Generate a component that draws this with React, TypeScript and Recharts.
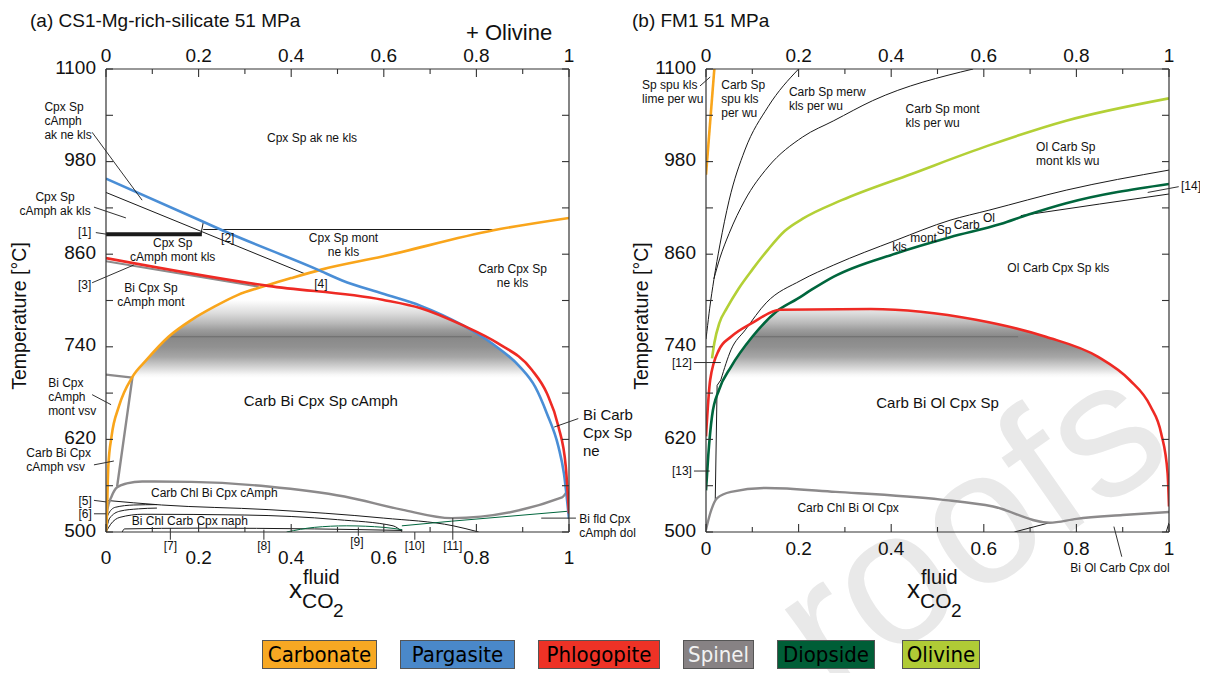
import React from "react";
import {
  Area,
  ComposedChart,
  Line,
  ReferenceDot,
  ReferenceLine,
  XAxis,
  YAxis,
} from "recharts";

const FONT = "'Liberation Sans', Arial, Helvetica, sans-serif";
const H = 673;
const AXIS = { stroke: "#333", strokeWidth: 1.2 };

const ORANGE = "#F9A51B";
const BLUE = "#4A8ED6";
const RED = "#EE2A24";
const GRAY = "#8C8A8B";
const DKGREEN = "#00663D";
const LIME = "#B3D036";
const INK = "#1a1a1a";

// axes
const xTicks = [0, 0.1, 0.2, 0.3, 0.4, 0.5, 0.6, 0.7, 0.8, 0.9, 1];
const yTicks = [500, 560, 620, 680, 740, 800, 860, 920, 980, 1040, 1100];
const yLabelled = [500, 620, 740, 860, 980, 1100];

// (a) CS1-Mg-rich-silicate, [x CO2, T °C]
const carbonateA = [[0, 500], [0.001, 507], [0.005, 585], [0.012, 624], [0.028, 663], [0.057, 701], [0.086, 722], [0.135, 753], [0.185, 775], [0.234, 792], [0.284, 807], [0.35, 820], [0.4, 829], [0.465, 840], [0.597, 857], [0.837, 891], [1, 907]];
const pargasiteA = [[0, 958], [0.21, 902], [0.251, 891], [0.457, 840], [0.51, 826], [0.597, 809], [0.68, 793], [0.77, 768], [0.837, 743], [0.894, 714], [0.927, 688], [0.952, 654], [0.977, 611], [0.989, 576], [1, 517]];
const phlogopiteA = [[0, 855], [0.35, 819], [0.597, 801], [0.68, 790], [0.77, 768], [0.845, 745], [0.92, 710], [0.952, 680], [0.977, 637], [0.993, 585], [1, 524]];
const spinelA1 = [[0, 704], [0.057, 700], [0.024, 559]];
const spinelA2 = [[0, 500], [0.003, 529], [0.012, 546], [0.024, 558], [0.045, 563], [0.078, 565.5], [0.185, 565], [0.35, 559], [0.515, 546], [0.639, 529], [0.746, 518], [0.985, 545], [0.995, 552]];
const spinelA3 = [[0, 851], [0.33, 818]];
const diopsideA1 = [[0.39, 500], [0.45, 506], [0.52, 508], [0.6, 506], [0.64, 503]];
const diopsideA2 = [[0.639, 508], [0.746, 514], [1, 527]];
const akLineA = [[0, 940], [0.432, 834]];
const tieA = [[0.21, 901], [0.205, 886]];
const flatA = [[0.21, 892], [0.835, 892]];
const thickA = [[0, 886], [0.207, 886]];
const lowA1 = [[0, 541], [0.12, 535], [0.35, 529], [0.6, 518], [0.75, 508], [0.805, 500]];
const lowA2 = [[0, 500], [0.004, 522], [0.02, 532], [0.06, 535], [0.11, 535.5]];
const lowA3 = [[0, 500], [0.008, 518], [0.03, 527], [0.07, 530], [0.11, 531]];
const lowA4 = [[0, 500], [0.01, 510], [0.03, 519], [0.08, 523], [0.3, 522], [0.5, 516], [0.62, 508], [0.64, 500]];
const lowA5 = [[0.035, 500], [0.04, 504], [0.2, 505], [0.45, 504], [0.64, 502]];
const shadeA = [[0.057, 700], [0.086, 722], [0.135, 753], [0.185, 775], [0.234, 792], [0.284, 807], [0.35, 819], [0.45, 811], [0.597, 801], [0.68, 790], [0.77, 768], [0.837, 743], [0.894, 714], [0.915, 700]];
const bandA = [[0.135, 753], [0.79, 753]];

// (b) FM1
const carbonateB = [[0, 963], [0.018, 1100]];
const blackB1 = [[0, 750], [0.002, 760], [0.008, 790], [0.017, 827], [0.03, 872], [0.05, 930], [0.084, 995], [0.134, 1051], [0.2, 1100]];
const blackB2 = [[0.017, 828], [0.03, 855], [0.05, 887], [0.084, 930], [0.134, 973], [0.209, 1012], [0.276, 1033], [0.36, 1059], [0.577, 1100]];
const olivineB = [[0.013, 725], [0.018, 745], [0.029, 771], [0.045, 790], [0.07, 815], [0.1, 840], [0.134, 866], [0.17, 890], [0.209, 906], [0.293, 930], [0.444, 964], [0.611, 1001], [0.778, 1033], [1, 1062]];
const diopsideB = [[0, 554], [0.005, 600], [0.013, 650], [0.028, 684], [0.054, 714], [0.1, 753], [0.153, 786], [0.197, 802], [0.228, 814], [0.276, 831], [0.41, 861], [0.527, 882], [0.636, 899], [0.695, 911], [0.778, 926], [1, 951]];
const blackB3 = [[0.032, 697], [0.054, 736], [0.085, 762], [0.13, 797], [0.205, 826], [0.276, 846], [0.41, 878], [0.527, 904], [0.611, 917], [0.778, 943], [1, 969]];
const blackB3drop = [[0.02, 542], [0.024, 690], [0.032, 697]];
const blackB4 = [[0.68, 910], [0.85, 925], [1, 938]];
const phlogopiteB = [[0, 624], [0.009, 697], [0.028, 736], [0.054, 753], [0.1, 771], [0.16, 788], [0.356, 789], [0.583, 775], [0.734, 753], [0.847, 727], [0.915, 697], [0.96, 663], [0.983, 628], [0.997, 576], [1, 533]];
const spinelB = [[0, 503], [0.009, 524], [0.024, 544], [0.054, 552], [0.13, 557], [0.28, 552], [0.508, 542], [0.62, 533], [0.742, 512], [0.8, 517], [0.9, 522], [1, 526]];
const blackB5 = [[0.666, 500], [0.742, 512]];
const blackB6 = [[0.994, 500], [1, 512]];
const shadeB = [[0.04, 700], [0.054, 714], [0.1, 753], [0.155, 786], [0.16, 788], [0.356, 789], [0.583, 775], [0.734, 753], [0.847, 727], [0.912, 700]];
const bandB = [[0.1, 753], [0.674, 753]];

type Lbl = { x: number; t: number; text: string[]; size?: number; anchor?: "start" | "middle" | "end" };

const labelsA: Lbl[] = [
  { x: -0.133, t: 1032.6, text: ["Cpx Sp", "cAmph", "ak ne kls"], anchor: "start" },
  { x: 0.445, t: 1010.6, text: ["Cpx Sp ak ne kls"] },
  { x: -0.11, t: 925, text: ["Cpx Sp", "cAmph ak kls"] },
  { x: -0.046, t: 889, text: ["[1]"] },
  { x: 0.144, t: 865.5, text: ["Cpx Sp", "cAmph mont kls"] },
  { x: 0.263, t: 881, text: ["[2]"] },
  { x: 0.513, t: 872, text: ["Cpx Sp mont", "ne kls"] },
  { x: -0.046, t: 820, text: ["[3]"] },
  { x: 0.464, t: 821.5, text: ["[4]"] },
  { x: 0.878, t: 832.5, text: ["Carb Cpx Sp", "ne kls"] },
  { x: 0.097, t: 808, text: ["Bi Cpx Sp", "cAmph mont"] },
  { x: -0.125, t: 675, text: ["Bi Cpx", "cAmph", "mont vsv"], anchor: "start" },
  { x: 0.464, t: 670, text: ["Carb Bi Cpx Sp cAmph"], size: 15 },
  { x: -0.172, t: 593.5, text: ["Carb Bi Cpx", "cAmph vsv"], anchor: "start" },
  { x: 1.03, t: 628.5, text: ["Bi Carb", "Cpx Sp", "ne"], size: 15, anchor: "start" },
  { x: 0.234, t: 551, text: ["Carb Chl Bi Cpx cAmph"] },
  { x: -0.045, t: 541, text: ["[5]"] },
  { x: -0.045, t: 523.6, text: ["[6]"] },
  { x: 0.181, t: 514.5, text: ["Bi Chl Carb Cpx naph"] },
  { x: 0.139, t: 482, text: ["[7]"] },
  { x: 0.341, t: 482.5, text: ["[8]"] },
  { x: 0.542, t: 487.7, text: ["[9]"] },
  { x: 0.667, t: 482.5, text: ["[10]"] },
  { x: 0.749, t: 482.5, text: ["[11]"] },
  { x: 1.022, t: 508, text: ["Bi fld Cpx", "cAmph dol"], anchor: "start" },
];

const leadersA = [
  [[-0.03, 1018], [0.078, 930]],
  [[-0.026, 921], [0.043, 907]],
  [[-0.022, 888], [0, 886]],
  [[-0.03, 823], [0.06, 846]],
  [[-0.03, 678], [0.011, 665]],
  [[-0.026, 587], [0.017, 592]],
  [[0.968, 636], [1.02, 647]],
  [[-0.026, 541], [0, 539]],
  [[-0.026, 523.6], [0, 523.6]],
  [[0.94, 518], [1.015, 518]],
  [[0.139, 490], [0.139, 505]],
  [[0.341, 490], [0.341, 503]],
  [[0.545, 495], [0.545, 506]],
  [[0.667, 490], [0.667, 500]],
  [[0.749, 490], [0.749, 518]],
];

const labelsB: Lbl[] = [
  { x: -0.138, t: 1070, text: ["Sp spu kls", "lime per wu"], anchor: "start" },
  { x: 0.033, t: 1061, text: ["Carb Sp", "spu kls", "per wu"], anchor: "start" },
  { x: 0.179, t: 1062, text: ["Carb Sp merw", "kls per wu"], anchor: "start" },
  { x: 0.431, t: 1040, text: ["Carb Sp mont", "kls per wu"], anchor: "start" },
  { x: 0.713, t: 990, text: ["Ol Carb Sp", "mont kls wu"], anchor: "start" },
  { x: 1.026, t: 948.5, text: ["[14]"], anchor: "start" },
  { x: 0.418, t: 869.4, text: ["kls"] },
  { x: 0.47, t: 881, text: ["mont"] },
  { x: 0.514, t: 891.5, text: ["Sp"] },
  { x: 0.563, t: 898, text: ["Carb"] },
  { x: 0.611, t: 907, text: ["Ol"] },
  { x: 0.761, t: 842, text: ["Ol Carb Cpx Sp kls"] },
  { x: 0.5, t: 668, text: ["Carb Bi Ol Cpx Sp"], size: 15 },
  { x: -0.052, t: 719.6, text: ["[12]"] },
  { x: -0.052, t: 579, text: ["[13]"] },
  { x: 0.307, t: 531, text: ["Carb Chl Bi Ol Cpx"] },
  { x: 0.894, t: 453, text: ["Bi Ol Carb Cpx dol"] },
];

const leadersB = [
  [[-0.013, 1078], [0.009, 1089.6]],
  [[0.954, 940], [1.021, 947.5]],
  [[-0.026, 719.6], [0.032, 719.6]],
  [[-0.026, 579], [0.008, 579]],
  [[0.881, 507], [0.898, 468]],
];

const legendItems = [
  { name: "Carbonate", color: "#F7A823", left: 262, width: 115, ink: "#000" },
  { name: "Pargasite", color: "#4A88C9", left: 400, width: 115, ink: "#000" },
  { name: "Phlogopite", color: "#EE3226", left: 538, width: 122, ink: "#000" },
  { name: "Spinel", color: "#878284", left: 683, width: 71, ink: "#f2f2f2" },
  { name: "Diopside", color: "#005E37", left: 777, width: 98, ink: "#000" },
  { name: "Olivine", color: "#B0CB36", left: 902, width: 78, ink: "#000" },
];

type Series = { d: number[][]; c: string; w: number; smooth?: boolean };

const seriesA: Series[] = [
  { d: akLineA, c: INK, w: 1 },
  { d: tieA, c: INK, w: 1 },
  { d: flatA, c: INK, w: 1 },
  { d: thickA, c: INK, w: 4 },
  { d: lowA1, c: INK, w: 1, smooth: true },
  { d: lowA2, c: INK, w: 1, smooth: true },
  { d: lowA3, c: INK, w: 1, smooth: true },
  { d: lowA4, c: INK, w: 1, smooth: true },
  { d: lowA5, c: INK, w: 1, smooth: true },
  { d: diopsideA1, c: DKGREEN, w: 1, smooth: true },
  { d: diopsideA2, c: DKGREEN, w: 1 },
  { d: spinelA1, c: GRAY, w: 2.4 },
  { d: spinelA2, c: GRAY, w: 2.4, smooth: true },
  { d: spinelA3, c: GRAY, w: 2 },
  { d: carbonateA, c: ORANGE, w: 2.6, smooth: true },
  { d: pargasiteA, c: BLUE, w: 2.6, smooth: true },
  { d: phlogopiteA, c: RED, w: 2.6, smooth: true },
];

const seriesB: Series[] = [
  { d: blackB1, c: INK, w: 1, smooth: true },
  { d: blackB2, c: INK, w: 1, smooth: true },
  { d: blackB3, c: INK, w: 1, smooth: true },
  { d: blackB3drop, c: INK, w: 1 },
  { d: blackB4, c: INK, w: 1, smooth: true },
  { d: blackB5, c: INK, w: 1 },
  { d: blackB6, c: INK, w: 1 },
  { d: spinelB, c: GRAY, w: 2.4, smooth: true },
  { d: carbonateB, c: ORANGE, w: 2.6 },
  { d: olivineB, c: LIME, w: 2.6, smooth: true },
  { d: diopsideB, c: DKGREEN, w: 2.6, smooth: true },
  { d: phlogopiteB, c: RED, w: 2.6, smooth: true },
];

const pts = (a: number[][]) => a.map(([x, t]) => ({ x, t }));
const fmtX = (v: number) => String(Math.round(v * 10) / 10);
const isMajorX = (v: number) => Math.round(v * 10) % 2 === 0;

function XTick(p: any) {
  const { x, y, payload, side, dy } = p;
  const v = payload.value;
  const major = isMajorX(v);
  const len = major ? 8 : 5;
  const y2 = side === "top" ? y + len : y - len;
  return (
    <g>
      <line x1={x} x2={x} y1={y} y2={y2} stroke="#333" strokeWidth={1.1} />
      {major && (
        <text x={x} y={y + dy} textAnchor="middle" fontSize={19} fontFamily={FONT} fill="#111">
          {fmtX(v)}
        </text>
      )}
    </g>
  );
}

function YTick(p: any) {
  const { x, y, payload, side } = p;
  const v = payload.value;
  const x2 = side === "left" ? x + 7 : x - 7;
  return (
    <g>
      <line x1={x} x2={x2} y1={y} y2={y} stroke="#333" strokeWidth={1.1} />
      {side === "left" && yLabelled.includes(v) && (
        <text x={x - 10} y={y + 4.5} textAnchor="end" fontSize={19} fontFamily={FONT} fill="#111">
          {v}
        </text>
      )}
    </g>
  );
}

function MText({ x, y, lbl }: { x: number; y: number; lbl: Lbl }) {
  const size = lbl.size ?? 12;
  const lh = size > 12 ? 18 : 14;
  const top = y - ((lbl.text.length - 1) * lh) / 2;
  return (
    <text fontSize={size} fontFamily={FONT} textAnchor={lbl.anchor ?? "middle"} fill="#111">
      {lbl.text.map((s, i) => (
        <tspan key={i} x={x} y={top + i * lh} dy="0.35em">
          {s}
        </tspan>
      ))}
    </text>
  );
}

type PanelProps = {
  width: number;
  series: Series[];
  shade: number[][];
  band: number[][];
  labels: Lbl[];
  leaders: number[][][];
  bottomDy: number;
  gid: string;
};

function Panel({ width, series, shade, band, labels, leaders, bottomDy, gid }: PanelProps) {
  const rows = shade.map(([x, t]) => ({ x, r: [700, t] }));
  // plot box: 106..569 horizontally, 69..532 vertically
  const margin = { top: 39, right: width - 579, bottom: 111, left: 56 };
  return (
    <ComposedChart width={width} height={H} margin={margin}>
      <defs>
        <linearGradient id={gid} gradientUnits="userSpaceOnUse" x1="0" y1="300" x2="0" y2="378">
          <stop offset="0" stopColor="#ffffff" />
          <stop offset="0.17" stopColor="#dcdcdc" />
          <stop offset="0.3" stopColor="#b8b8b8" />
          <stop offset="0.385" stopColor="#9c9c9c" />
          <stop offset="0.47" stopColor="#888888" />
          <stop offset="0.6" stopColor="#919191" />
          <stop offset="0.73" stopColor="#a6a6a6" />
          <stop offset="0.855" stopColor="#d2d2d2" />
          <stop offset="0.96" stopColor="#f8f8f8" />
          <stop offset="1" stopColor="#ffffff" />
        </linearGradient>
      </defs>
      <XAxis
        dataKey="x"
        type="number"
        domain={[0, 1]}
        ticks={xTicks}
        interval={0}
        allowDataOverflow
        height={30}
        tickLine={false}
        tickSize={0}
        tickMargin={0}
        axisLine={AXIS}
        tick={(p: any) => <XTick {...p} side="bottom" dy={bottomDy} />}
      />
      <XAxis
        xAxisId="top"
        orientation="top"
        dataKey="x"
        type="number"
        domain={[0, 1]}
        ticks={xTicks}
        interval={0}
        allowDataOverflow
        height={30}
        tickLine={false}
        tickSize={0}
        tickMargin={0}
        axisLine={AXIS}
        tick={(p: any) => <XTick {...p} side="top" dy={-7} />}
      />
      <YAxis
        type="number"
        domain={[500, 1100]}
        ticks={yTicks}
        interval={0}
        allowDataOverflow
        width={50}
        tickLine={false}
        tickSize={0}
        tickMargin={0}
        axisLine={AXIS}
        tick={(p: any) => <YTick {...p} side="left" />}
      />
      <YAxis
        yAxisId="right"
        orientation="right"
        type="number"
        domain={[500, 1100]}
        ticks={yTicks}
        interval={0}
        allowDataOverflow
        width={10}
        tickLine={false}
        tickSize={0}
        tickMargin={0}
        axisLine={AXIS}
        tick={(p: any) => <YTick {...p} side="right" />}
      />
      {/* keeps the top / right axes bound to data */}
      <Line
        xAxisId="top"
        yAxisId="right"
        data={pts(series[series.length - 1].d)}
        dataKey="t"
        stroke="none"
        dot={false}
        activeDot={false}
        isAnimationActive={false}
      />
      <Area
        data={rows}
        dataKey="r"
        type="monotoneX"
        stroke="none"
        fill={`url(#${gid})`}
        fillOpacity={1}
        dot={false}
        activeDot={false}
        isAnimationActive={false}
      />
      <Line
        data={pts(band)}
        dataKey="t"
        stroke="#555"
        strokeOpacity={0.55}
        strokeWidth={1}
        dot={false}
        activeDot={false}
        isAnimationActive={false}
      />
      {series.map((s, i) => (
        <Line
          key={i}
          data={pts(s.d)}
          dataKey="t"
          type={s.smooth ? "monotoneX" : "linear"}
          stroke={s.c}
          strokeWidth={s.w}
          strokeLinejoin="round"
          dot={false}
          activeDot={false}
          isAnimationActive={false}
        />
      ))}
      {leaders.map((seg, i) => (
        <ReferenceLine
          key={`l${i}`}
          segment={[
            { x: seg[0][0], y: seg[0][1] },
            { x: seg[1][0], y: seg[1][1] },
          ]}
          stroke={INK}
          strokeWidth={0.9}
          ifOverflow="visible"
        />
      ))}
      {labels.map((l, i) => (
        <ReferenceDot
          key={`t${i}`}
          x={l.x}
          y={l.t}
          r={0}
          ifOverflow="visible"
          shape={(p: any) => <MText x={p.cx} y={p.cy} lbl={l} />}
        />
      ))}
    </ComposedChart>
  );
}

function XLabel({ x }: { x: number }) {
  return (
    <g fontFamily={FONT} fill="#111">
      <text x={x} y={598} fontSize={26}>x</text>
      <text x={x + 14} y={584} fontSize={20}>fluid</text>
      <text x={x + 13} y={608} fontSize={21}>CO</text>
      <text x={x + 44} y={617} fontSize={19}>2</text>
    </g>
  );
}

export default function App() {
  return (
    <div style={{ position: "absolute", left: 0, top: 0, width: 1210, height: 673, background: "#fff", overflow: "hidden" }}>
      <svg width={1210} height={673} style={{ position: "absolute", left: 0, top: 0 }}>
        <text
          x={832}
          y={699}
          fontSize={190}
          fontFamily={FONT}
          fill="#e9e9e9"
          transform="rotate(-35 832 699)"
        >
          roofs
        </text>
      </svg>
      <div style={{ position: "absolute", left: 0, top: 0 }}>
        <Panel width={650} series={seriesA} shade={shadeA} band={bandA} labels={labelsA} leaders={leadersA} bottomDy={32} gid="shadeA" />
      </div>
      <div style={{ position: "absolute", left: 600, top: 0 }}>
        <Panel width={600} series={seriesB} shade={shadeB} band={bandB} labels={labelsB} leaders={leadersB} bottomDy={23} gid="shadeB" />
      </div>
      <svg width={1210} height={673} style={{ position: "absolute", left: 0, top: 0, pointerEvents: "none" }}>
        <g fontFamily={FONT} fill="#111">
          <text x={30} y={27} fontSize={19}>(a) CS1-Mg-rich-silicate 51 MPa</text>
          <text x={466} y={40} fontSize={22}>+ Olivine</text>
          <text x={632} y={27} fontSize={19}>(b) FM1 51 MPa</text>
          <text x={26} y={316} fontSize={19.5} textAnchor="middle" transform="rotate(-90 26 316)">
            Temperature [°C]
          </text>
          <text x={648} y={316} fontSize={19.5} textAnchor="middle" transform="rotate(-90 648 316)">
            Temperature [°C]
          </text>
        </g>
        <XLabel x={289} />
        <XLabel x={907} />
      </svg>
      {legendItems.map((it) => (
        <div
          key={it.name}
          style={{
            position: "absolute",
            left: it.left,
            top: 640,
            width: it.width,
            height: 29,
            boxSizing: "border-box",
            background: it.color,
            border: "1px solid #555",
            color: it.ink,
            fontFamily: "'DejaVu Sans Condensed', 'Liberation Sans Narrow', sans-serif",
            fontSize: 22,
            lineHeight: "27px",
            textAlign: "center",
          }}
        >
          {it.name}
        </div>
      ))}
    </div>
  );
}
